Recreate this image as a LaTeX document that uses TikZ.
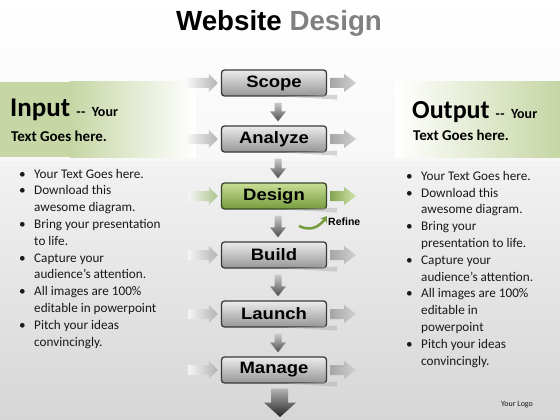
\documentclass[tikz,border=0pt]{standalone}
\usepackage{fontspec}
\setmainfont{Carlito}
\newfontfamily\arialfont{Liberation Sans}
\newfontfamily\boxfont[FakeStretch=1.12]{Liberation Sans}
\usetikzlibrary{calc,arrows.meta}
\definecolor{bandgreen}{RGB}{198,214,164}
\definecolor{bordergray}{RGB}{58,58,58}
\definecolor{boxtop}{RGB}{236,236,236}
\definecolor{boxbot}{RGB}{150,150,150}
\definecolor{gtop}{RGB}{200,222,150}
\definecolor{gbot}{RGB}{118,156,62}
\definecolor{gborder}{RGB}{55,70,40}
\definecolor{txt}{RGB}{25,25,25}
\newcommand\bl{\makebox[15pt][l]{\textbullet}}
\newcommand\ind{\hspace*{15pt}}
\newcommand\dd{\mbox{-}\kern0.6pt\mbox{-}}
\newcommand\inarr[3]{% node, left colour, right colour
  \shade[left color=#2, right color=#3]
   ($(#1.west)+(-33,-5)$) -- ($(#1.west)+(-12,-5)$) -- ($(#1.west)+(-12,-9)$) --
   ($(#1.west)+(-3,0)$) -- ($(#1.west)+(-12,9)$) -- ($(#1.west)+(-12,5)$) --
   ($(#1.west)+(-33,5)$) -- cycle;}
\newcommand\outarr[3]{%
  \shade[left color=#2, right color=#3]
   ($(#1.east)+(3,-5)$) -- ($(#1.east)+(17,-5)$) -- ($(#1.east)+(17,-9)$) --
   ($(#1.east)+(29,0)$) -- ($(#1.east)+(17,9)$) -- ($(#1.east)+(17,5)$) --
   ($(#1.east)+(3,5)$) -- cycle;}
\newcommand\boxshadow[1]{%
  \fill[black!30, opacity=.5] ($(#1.south east)+(-42,0)$) -- ($(#1.south east)+(10,3)$) -- ($(#1.south east)+(10,-2)$) -- cycle;}
\newcommand\downarr[2]{%
  \shade[top color=gray!40, bottom color=black!70]
   ($(#1.south)+(0.5,6)$) -- ($(#1.south)+(7.5,6)$) -- ($(#2.north)+(7.5,-14)$) --
   ($(#2.north)+(12,-14)$) -- ($(#2.north)+(4,-4)$) -- ($(#2.north)+(-4,-14)$) --
   ($(#2.north)+(0.5,-14)$) -- cycle;}
\tikzset{
  stepbox/.style={rounded corners=3pt, draw=bordergray, line width=1.3pt,
    top color=boxtop, bottom color=boxbot, minimum width=105pt, minimum height=26pt,
    inner sep=0pt, text=black, font=\boxfont\bfseries\fontsize{16.5}{16.5}\selectfont},
  greenbox/.style={stepbox, draw=gborder, top color=gtop, bottom color=gbot},
  listtext/.style={anchor=base west, inner sep=0pt, align=left, text=txt,
    font=\fontsize{13.2}{16.8}\selectfont},
  headtext/.style={anchor=base west, inner sep=0pt, text=black, font=\bfseries}
}
\begin{document}
\begin{tikzpicture}[x=1pt,y=-1pt]
\useasboundingbox (0,0) rectangle (560,420);
% background
\shade[top color=white!95!black, bottom color={rgb,255:red,214;green,214;blue,214}] (0,160) rectangle (560,420);
\shade[top color=white, bottom color=white!97!black] (0,0) rectangle (560,160);
% bands
\fill[bandgreen] (0,82) rectangle (70,157);
\shade[left color=bandgreen, right color=white] (70,82) rectangle (196,157);
\shade[left color=white, right color=bandgreen] (395,82) rectangle (560,157);
% title
\node[anchor=base, inner sep=0pt, font=\arialfont\bfseries\fontsize{27.7}{30}\selectfont] (title) at (279,31) {Website \textcolor{black!50}{Design}};
% boxes
\node[stepbox] (scope) at (274,83) {Scope};
\node[stepbox] (analyze) at (274,139) {Analyze};
\node[greenbox] (design) at (274,196) {Design};
\node[stepbox] (build) at (274,255) {Build};
\node[stepbox] (launch) at (274,314) {Launch};
\node[stepbox] (manage) at (274,370) {Manage};
% side arrows
\foreach \n in {scope,analyze,build,launch,manage}{
  \inarr{\n}{white!96!black}{black!30}
  \outarr{\n}{black!35}{black!18}
}
\inarr{design}{white!96!black}{gbot!60}
\outarr{design}{gbot!90}{gtop!80}
% shadows
\foreach \n in {scope,analyze,design,build,launch,manage}{\boxshadow{\n}}
% down arrows
\downarr{scope}{analyze}
\downarr{analyze}{design}
\downarr{design}{build}
\downarr{build}{launch}
\downarr{launch}{manage}
\coordinate (endtip) at (280,417);
\shade[top color=gray!60, bottom color=black!85]
  ($(manage.south)+(-3,5)$) -- ($(manage.south)+(14,5)$) -- ($(manage.south)+(14,19)$) --
  ($(manage.south)+(22,19)$) -- (endtip) -- ($(manage.south)+(-10,19)$) --
  ($(manage.south)+(-3,19)$) -- cycle;
% refine
\coordinate (r1) at (299,226);
\coordinate (r2) at (327,216);
\draw[line width=2.6pt, color=gbot, -{Stealth[length=6pt,width=8pt]}] (r1) .. controls (311,232) and (320,226) .. (r2);
\node[anchor=west, inner sep=0pt, font=\arialfont\bfseries\fontsize{10.5}{12}\selectfont] (refine) at (328,222) {Refine};
% input / output headings
\node[headtext] (input) at (10,117) {\fontsize{27}{29}\selectfont Input\ \fontsize{14}{16}\selectfont \dd\ \ Your};
\node[headtext, font=\bfseries\fontsize{15}{17}\selectfont] (inputsub) at (11,141) {Text Goes here.};
\node[headtext] (output) at (412,118) {\fontsize{26}{28}\selectfont Output\ \fontsize{14}{16}\selectfont \dd\ \ Your};
\node[headtext, font=\bfseries\fontsize{15}{17}\selectfont] (outputsub) at (413,140) {Text Goes here.};
% lists (base anchor = last line)
\node[listtext] (leftlist) at (19,346) {%
\bl Your Text Goes here.\\
\bl Download this\\
\ind awesome diagram.\\
\bl Bring your presentation\\
\ind to life.\\
\bl Capture your\\
\ind audience’s attention.\\
\bl All images are 100\%\\
\ind editable in powerpoint\\
\bl Pitch your ideas\\
\ind convincingly.};
\node[listtext] (rightlist) at (406,365) {%
\bl Your Text Goes here.\\
\bl Download this\\
\ind awesome diagram.\\
\bl Bring your\\
\ind presentation to life.\\
\bl Capture your\\
\ind audience’s attention.\\
\bl All images are 100\%\\
\ind editable in\\
\ind powerpoint\\
\bl Pitch your ideas\\
\ind convincingly.};
\node[anchor=center, inner sep=0pt, text=txt, font=\fontsize{8}{9}\selectfont] (logo) at (517,405) {Your Logo};
\end{tikzpicture}
\end{document}
